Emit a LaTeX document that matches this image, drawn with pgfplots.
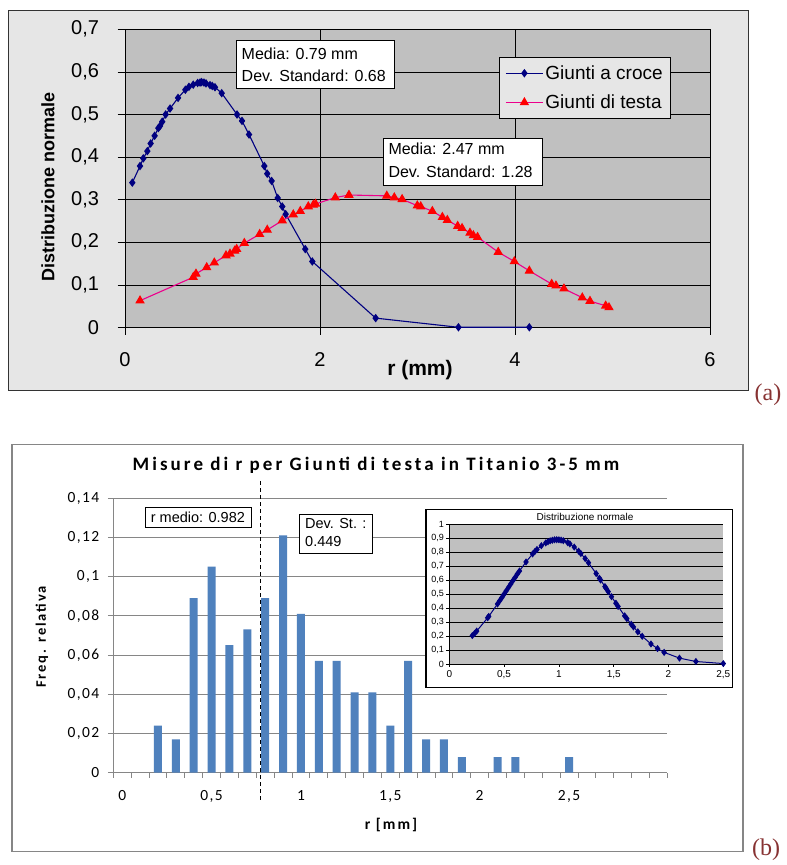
\documentclass[border=0pt]{standalone}
\usepackage{fontspec}
\setmainfont{Liberation Sans}
\newfontfamily\carl[LetterSpace=9]{Carlito}
\newfontfamily\carlt[LetterSpace=16]{Carlito}
\newfontfamily\carll[LetterSpace=13]{Carlito}
\newfontfamily\serifa{Liberation Serif}
\usepackage{pgfplots}
\pgfplotsset{compat=1.18}
\definecolor{navyc}{RGB}{0,0,128}
\definecolor{plotgray}{RGB}{192,192,192}
\definecolor{outergray}{RGB}{230,230,230}
\definecolor{barblue}{RGB}{79,129,189}
\definecolor{gridgray}{RGB}{134,134,134}
\definecolor{labred}{RGB}{135,50,50}
\newcommand\fs[2]{\fontsize{#1}{#2}\selectfont}
\begin{document}
\begin{tikzpicture}[x=1pt,y=1pt]
\useasboundingbox (0,0) rectangle (787,865);
% ---------------- chart (a) ----------------
\draw[fill=outergray, draw=black!80, line width=0.8pt] (8,475) rectangle (748,855);
\begin{axis}[
  at={(125pt,537.5pt)}, anchor=south west, scale only axis,
  width=585pt, height=298.2pt,
  xmin=0, xmax=6, ymin=0, ymax=0.7,
  xtick={0,2,4,6}, xticklabels={0,2,4,6},
  ytick={0,0.1,0.2,0.3,0.4,0.5,0.6,0.7},
  yticklabels={0,{0,1},{0,2},{0,3},{0,4},{0,5},{0,6},{0,7}},
  axis x line*=bottom, axis y line*=left,
  axis line style={black, line width=0.7pt},
  axis background/.style={fill=plotgray},
  grid=major, major grid style={black, line width=0.6pt},
  tick align=outside, major tick length=7.5pt, tick style={black, line width=0.6pt},
  tick label style={font=\fs{20}{23}},
  yticklabel style={xshift=-15pt},
  xticklabel style={yshift=-14pt},
  clip=false,
  legend style={at={(axis description cs:0.6393,0.9063)}, anchor=north west,
    draw=black, fill=outergray, font=\fs{19}{22}, line width=0.7pt,
    inner xsep=6pt, inner ysep=6pt, row sep=10pt, cells={anchor=west}},
  legend image code/.code={\draw[mark repeat=2,mark phase=2,#1] plot coordinates {(0pt,0pt) (18.5pt,0pt) (37pt,0pt)};},
]
\addplot[navyc, line width=1.1pt, mark=diamond*, mark size=3.4pt, mark options={fill=navyc, draw=navyc}] coordinates {
(0.075,0.340) (0.154,0.379) (0.188,0.397) (0.229,0.414) (0.263,0.432) (0.304,0.450)
(0.342,0.468) (0.359,0.473) (0.382,0.483) (0.417,0.500) (0.462,0.514) (0.544,0.539)
(0.619,0.558) (0.656,0.565) (0.700,0.570) (0.745,0.574) (0.770,0.575) (0.786,0.576)
(0.810,0.575) (0.831,0.573) (0.872,0.569) (0.895,0.567) (0.923,0.564) (0.992,0.550)
(1.149,0.500) (1.200,0.485) (1.272,0.453) (1.429,0.379) (1.459,0.361) (1.504,0.344)
(1.566,0.304) (1.613,0.284) (1.648,0.266) (1.849,0.184) (1.921,0.155) (2.571,0.022)
(3.420,0.0005) (4.147,0.0005)};
\addlegendentry{Giunti a croce}
\addplot[magenta, line width=1.1pt, mark=triangle*, mark size=4.4pt, mark options={fill=red, draw=red}] coordinates {
(0.154,0.063) (0.700,0.118) (0.728,0.126) (0.838,0.141) (0.916,0.152) (1.036,0.169)
(1.077,0.173) (1.125,0.180) (1.145,0.184) (1.224,0.198) (1.381,0.219) (1.459,0.229)
(1.613,0.251) (1.726,0.265) (1.798,0.273) (1.880,0.284) (1.932,0.288) (1.955,0.290)
(2.157,0.305) (2.297,0.311) (2.685,0.309) (2.762,0.305) (2.842,0.301) (2.998,0.286)
(3.033,0.284) (3.152,0.273) (3.255,0.259) (3.306,0.252) (3.412,0.238) (3.457,0.233)
(3.538,0.222) (3.573,0.216) (3.616,0.212) (3.828,0.177) (3.993,0.155) (4.147,0.133)
(4.376,0.102) (4.420,0.098) (4.502,0.091) (4.690,0.070) (4.769,0.062) (4.930,0.051)
(4.964,0.047)};
\addlegendentry{Giunti di testa}
\end{axis}
% annotations (a)
\draw[fill=white, draw=black, line width=0.8pt] (236,824.3) rectangle (394,776.7);
\node[anchor=west, inner sep=0pt, font=\fs{16}{19}] at (241.5,811.2) {Media: 0.79 mm};
\node[anchor=west, inner sep=0pt, font=\fs{16}{19}] at (241.5,789.5) {Dev. Standard: 0.68};
\draw[fill=white, draw=black, line width=0.8pt] (383.3,726.7) rectangle (542.3,680);
\node[anchor=west, inner sep=0pt, font=\fs{16}{19}] at (388.3,716) {Media: 2.47 mm};
\node[anchor=west, inner sep=0pt, font=\fs{16}{19}] at (388.3,693.3) {Dev. Standard: 1.28};
\node[rotate=90, font=\bfseries\fs{18}{21}] at (48,678) {Distribuzione normale};
\node[font=\bfseries\fs{21}{24}] at (420,495) {r (mm)};
\node[font=\serifa\fs{24}{28}, text=labred] at (768,470) {(a)};
% ---------------- chart (b) ----------------
\draw[fill=white, draw=gridgray, line width=1.3pt] (12,13.7) rectangle (743,420.3);
\node[font=\carlt\bfseries\fs{19}{23}] at (376,400) {Misure di r per Giunti di testa in Titanio 3-5 mm};
\begin{axis}[
  at={(113.3pt,92.3pt)}, anchor=south west, scale only axis,
  width=554pt, height=274.7pt,
  xmin=-0.5, xmax=30.5, ymin=0, ymax=0.14,
  ytick={0,0.02,0.04,0.06,0.08,0.1,0.12,0.14},
  yticklabels={0,{0,02},{0,04},{0,06},{0,08},{0,1},{0,12},{0,14}},
  xtick={0,5,10,15,20,25},
  xticklabels={0,{0,5},1,{1,5},2,{2,5}},
  minor xtick={-0.5,0.5,1.5,2.5,3.5,4.5,5.5,6.5,7.5,8.5,9.5,10.5,11.5,12.5,13.5,14.5,15.5,16.5,17.5,18.5,19.5,20.5,21.5,22.5,23.5,24.5,25.5,26.5,27.5,28.5,29.5,30.5},
  every major x tick/.style={draw=none},
  axis x line*=bottom, axis y line*=left,
  axis line style={gridgray, line width=0.9pt},
  ymajorgrids, major grid style={gridgray, line width=0.9pt},
  tick align=outside, major tick length=5.5pt, minor tick length=5pt,
  tick style={gridgray, line width=0.9pt},
  tick label style={font=\carl\fs{15.5}{18}},
  yticklabel style={xshift=-5pt},
  xticklabel style={yshift=-9pt},
  clip=false,
]
\addplot[ybar, bar width=8pt, fill=barblue, draw=none] coordinates {
(2,0.024) (3,0.017) (4,0.089) (5,0.105) (6,0.065) (7,0.073) (8,0.089) (9,0.121)
(10,0.081) (11,0.057) (12,0.057) (13,0.041) (14,0.041) (15,0.024) (16,0.057)
(17,0.017) (18,0.017) (19,0.008) (21,0.008) (22,0.008) (25,0.008)};
\addplot[black, line width=1pt, dash pattern=on 4pt off 3pt] coordinates {(7.75,-0.0139) (7.75,0.1492)};
\end{axis}
\node[rotate=90, font=\carll\bfseries\fs{14.5}{17}] at (42,228) {Freq. relativa};
\node[font=\carll\bfseries\fs{15.5}{18}] at (391,40) {r [mm]};
% annotations (b)
\draw[fill=white, draw=black, line width=0.8pt] (145.7,357.3) rectangle (251,337.3);
\node[anchor=west, inner sep=0pt, font=\fs{14.5}{17}] at (150.7,347.5) {r medio: 0.982};
\draw[fill=white, draw=black, line width=0.8pt] (299,351) rectangle (372.3,311.7);
\node[anchor=west, inner sep=0pt, font=\fs{14.5}{17}] at (305,341) {Dev. St. :};
\node[anchor=west, inner sep=0pt, font=\fs{14.5}{17}] at (305,323.3) {0.449};
% inset
\draw[fill=white, draw=black, line width=1.2pt] (426,177.7) rectangle (732.7,355.7);
\begin{axis}[
  at={(449.3pt,201pt)}, anchor=south west, scale only axis,
  width=274pt, height=140pt,
  xmin=0, xmax=2.5, ymin=0, ymax=1,
  ytick={0,0.1,0.2,0.3,0.4,0.5,0.6,0.7,0.8,0.9,1},
  yticklabels={0,{0,1},{0,2},{0,3},{0,4},{0,5},{0,6},{0,7},{0,8},{0,9},1},
  xtick={0,0.5,1,1.5,2,2.5},
  xticklabels={0,{0,5},1,{1,5},2,{2,5}},
  axis x line*=bottom, axis y line*=left,
  axis line style={black, line width=0.7pt},
  axis background/.style={fill=plotgray},
  ymajorgrids, major grid style={black, line width=0.7pt},
  tick align=outside, major tick length=3pt, tick style={black, line width=0.6pt},
  yticklabel style={font=\fs{9}{10}, xshift=1pt},
  xticklabel style={font=\fs{10}{11}},
  clip=false,
]
\addplot[navyc, line width=1pt, mark=diamond*, mark size=2.8pt, mark options={fill=navyc, draw=navyc}] coordinates {
(0.21,0.203) (0.23,0.218) (0.25,0.235) (0.35,0.330) (0.36,0.340) (0.44,0.429)
(0.46,0.452) (0.48,0.475) (0.50,0.499) (0.52,0.523) (0.54,0.547) (0.56,0.571)
(0.58,0.595) (0.60,0.618) (0.62,0.642) (0.64,0.664) (0.70,0.729) (0.76,0.786)
(0.78,0.803) (0.80,0.818) (0.84,0.845) (0.88,0.865) (0.90,0.873) (0.92,0.880)
(0.94,0.884) (0.96,0.887) (0.98,0.888) (1.00,0.887) (1.02,0.885) (1.04,0.881)
(1.08,0.867) (1.10,0.858) (1.14,0.835) (1.18,0.806) (1.20,0.789) (1.24,0.753)
(1.27,0.723) (1.34,0.646) (1.37,0.612) (1.38,0.600) (1.42,0.553) (1.43,0.541)
(1.45,0.517) (1.48,0.481) (1.52,0.434) (1.54,0.411) (1.60,0.344) (1.62,0.324)
(1.66,0.284) (1.68,0.265) (1.72,0.230) (1.76,0.198) (1.84,0.143) (1.90,0.110)
(1.96,0.083) (2.10,0.042) (2.25,0.018) (2.50,0.003)};
\end{axis}
\node[font=\fs{10}{11}] at (585,347.7) {Distribuzione normale};
\node[font=\serifa\fs{24}{28}, text=labred] at (766,15) {(b)};
\end{tikzpicture}
\end{document}
